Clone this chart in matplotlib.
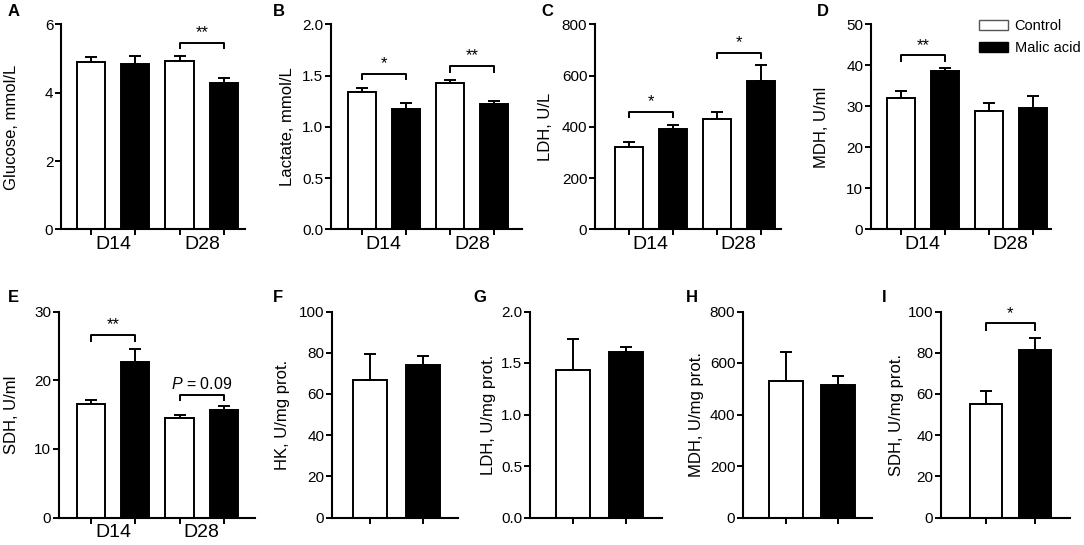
import matplotlib
matplotlib.use('Agg')
import matplotlib.pyplot as plt
import matplotlib.transforms as mtrans
from matplotlib.patches import Patch

plt.rcParams['font.family'] = ['Liberation Sans', 'DejaVu Sans']
plt.rcParams['mathtext.fontset'] = 'custom'
plt.rcParams['mathtext.it'] = 'Liberation Sans:italic'
plt.rcParams['mathtext.rm'] = 'Liberation Sans'

# ---- data ----
groups = ['D14', 'D28']
series = ['Control', 'Malic acid']

glucose = [4.90, 4.84, 4.92, 4.29]
glucose_err = [0.14, 0.23, 0.15, 0.14]
lactate = [1.343, 1.17, 1.424, 1.222]
lactate_err = [0.036, 0.062, 0.033, 0.026]
ldh_serum = [320, 391, 429, 577]
ldh_serum_err = [23, 17, 29, 64]
mdh_serum = [32.0, 38.6, 28.8, 29.5]
mdh_serum_err = [1.7, 0.7, 2.0, 3.0]
sdh_serum = [16.6, 22.7, 14.45, 15.7]
sdh_serum_err = [0.5, 1.9, 0.45, 0.5]

hk = [66.7, 74.1]
hk_err = [12.7, 4.3]
ldh_tissue = [1.43, 1.605]
ldh_tissue_err = [0.30, 0.05]
mdh_tissue = [532, 515]
mdh_tissue_err = [109, 34]
sdh_tissue = [55.2, 81.3]
sdh_tissue_err = [6.2, 5.8]

ylabels = ['Glucose, mmol/L', 'Lactate, mmol/L', 'LDH, U/L', 'MDH, U/ml', 'SDH, U/ml',
           'HK, U/mg prot.', 'LDH, U/mg prot.', 'MDH, U/mg prot.', 'SDH, U/mg prot.']
letters = ['A', 'B', 'C', 'D', 'E', 'F', 'G', 'H', 'I']
ymax = [6, 2.0, 800, 50, 30, 100, 2.0, 800, 100]
ystep = [2, 0.5, 200, 10, 10, 20, 0.5, 200, 20]

# significance brackets: panel, bar i, bar j, bracket top, leg bottom, label
brackets = [
    (0, 2, 3, 5.46, 5.29, '**'),
    (1, 0, 1, 1.515, 1.457, '*'),
    (1, 2, 3, 1.59, 1.53, '**'),
    (2, 0, 1, 458, 434, '*'),
    (2, 2, 3, 689, 666, '*'),
    (3, 0, 1, 42.4, 40.8, '**'),
    (4, 0, 1, 26.6, 25.55, '**'),
    (4, 2, 3, 17.9, 16.9, '$P$ = 0.09'),
    (8, 0, 1, 94.2, 90.6, '*'),
]

values = [glucose, lactate, ldh_serum, mdh_serum, sdh_serum,
          hk, ldh_tissue, mdh_tissue, sdh_tissue]
errors = [glucose_err, lactate_err, ldh_serum_err, mdh_serum_err, sdh_serum_err,
          hk_err, ldh_tissue_err, mdh_tissue_err, sdh_tissue_err]

# ---- layout (pixels) ----
W, H = 1084, 545
# left, right, top, bottom, xlim, letter x, letter y, ylabel x
layout = [
    (61, 245, 24.3, 229.5, (-0.67, 3.47), 8, 12, 12),
    (331, 522, 24.3, 229.5, (-0.70, 3.64), 273, 12, 287),
    (595, 781, 24.3, 229.5, (-0.77, 3.46), 541, 12, 546),
    (871, 1051, 24.3, 229.5, (-0.68, 3.42), 817, 12, 821),
    (59, 255, 311.5, 517.5, (-0.72, 3.70), 8, 298, 12),
    (332, 458, 311.5, 517.5, (-0.71, 1.66), 273, 298, 283),
    (530, 662, 311.5, 517.5, (-0.81, 1.68), 473, 298, 489),
    (743, 872, 311.5, 517.5, (-0.82, 1.65), 686, 298, 697),
    (941, 1070, 311.5, 517.5, (-0.91, 1.71), 882, 298, 896),
]

fig = plt.figure(figsize=(W / 100, H / 100), dpi=100)

def fx(p):
    return p / W

def fy(p):
    return 1 - p / H

axes = []
for k in range(9):
    left, right, top, bottom, xl, lx, ly, ylx = layout[k]
    ax = fig.add_axes([fx(left), fy(bottom), (right - left) / W, (bottom - top) / H])
    axes.append(ax)
    vals = values[k]
    errs = errors[k]
    n = len(vals)
    xs = list(range(n))
    colors = ['white' if i % 2 == 0 else 'black' for i in range(n)]
    ax.bar(xs, vals, width=0.64, color=colors, edgecolor='black', linewidth=1.4, zorder=2)
    ax.errorbar(xs, vals, yerr=[[0] * n, errs], fmt='none', ecolor='black',
                elinewidth=1.4, capsize=4.5, capthick=1.4, zorder=3, clip_on=False)
    ax.set_xlim(*xl)
    ax.set_ylim(0, ymax[k])
    nt = int(round(ymax[k] / ystep[k]))
    ticks = [ystep[k] * i for i in range(nt + 1)]
    ax.set_yticks(ticks)
    if ystep[k] < 1:
        ax.set_yticklabels(['%.1f' % t for t in ticks])
    else:
        ax.set_yticklabels(['%d' % t for t in ticks])
    ax.set_xticks(xs)
    ax.set_xticklabels([])
    for s in ['top', 'right']:
        ax.spines[s].set_visible(False)
    for s in ['left', 'bottom']:
        ax.spines[s].set_linewidth(1.5)
    ax.tick_params(direction='out', length=4, width=1.4, labelsize=11, pad=1.5)
    ax.patch.set_alpha(0)

    fig.text(fx(lx), fy(ly), letters[k], fontsize=12, fontweight='bold', ha='left', va='center')
    fig.text(fx(ylx), fy((top + bottom) / 2), ylabels[k], fontsize=12, rotation=90,
             ha='center', va='center')

    if n == 4:
        tr = mtrans.blended_transform_factory(ax.transData, fig.transFigure)
        gy = fy(bottom + 15)
        for g, name in enumerate(groups):
            ax.text(2 * g + 0.5, gy, name, transform=tr, fontsize=14, ha='center', va='center')

for k, i, j, top_v, leg_v, label in brackets:
    ax = axes[k]
    ax.plot([i, i, j, j], [leg_v, top_v, top_v, leg_v], color='black', lw=1.4,
             clip_on=False, zorder=4, solid_capstyle='butt')
    ax.annotate(label, xy=((i + j) / 2, top_v), xytext=(0, 2), textcoords='offset points',
                ha='center', va='bottom', fontsize=12 if label.startswith('*') else 11.5)

handles = [Patch(facecolor='white', edgecolor='#555555', linewidth=1.0),
           Patch(facecolor='black', edgecolor='black', linewidth=1.0)]
fig.legend(handles, series, loc='upper left', bbox_to_anchor=(fx(979), fy(19)),
           frameon=False, fontsize=10.5, handlelength=2.0, handleheight=0.75,
           handletextpad=0.45, labelspacing=0.55, borderpad=0, borderaxespad=0)

fig.savefig('out.png', dpi=100)
